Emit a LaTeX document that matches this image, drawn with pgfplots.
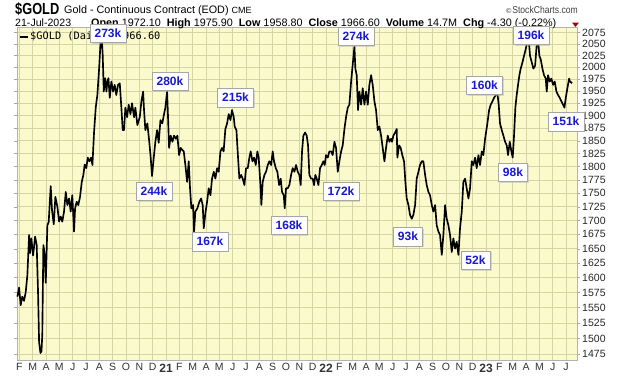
\documentclass[border=0pt]{standalone}
\usepackage{fontspec}
\setmainfont{Liberation Sans}
\newfontfamily\dejavu{DejaVu Sans}
\newfontfamily\mono{DejaVu Sans Mono}
\newfontfamily\narrowfont[FakeStretch=0.86]{Liberation Sans}
\newfontfamily\condfont[FakeStretch=0.8]{Liberation Sans}
\usepackage{pgfplots}
\pgfplotsset{compat=1.18}
\usetikzlibrary{shadows}
\definecolor{bgyel}{RGB}{250,250,204}
\definecolor{gridc}{RGB}{214,212,165}
\definecolor{yearc}{RGB}{165,165,135}
\definecolor{lblue}{RGB}{25,25,205}
\pgfplotstableread{
m p
0.85 1568
0.98 1583
1.10 1554
1.22 1568
1.35 1561
1.48 1576
1.60 1604
1.73 1674
1.80 1642
1.90 1668
2.03 1638
2.18 1671
2.30 1656
2.40 1576
2.48 1494
2.58 1477
2.66 1480
2.72 1506
2.80 1656
2.88 1644
2.98 1591
3.10 1691
3.20 1697
3.35 1763
3.45 1718
3.58 1693
3.70 1743
3.85 1725
3.98 1698
4.10 1707
4.22 1698
4.35 1716
4.48 1752
4.60 1728
4.73 1740
4.85 1716
4.97 1746
5.10 1680
5.18 1722
5.30 1734
5.42 1728
5.55 1743
5.68 1771
5.80 1784
5.90 1804
6.02 1797
6.13 1817
6.25 1810
6.38 1817
6.48 1803
6.60 1866
6.73 1917
6.85 1942
6.98 1997
7.08 2048
7.18 2062
7.25 2026
7.33 1949
7.43 1977
7.53 1949
7.60 1970
7.68 1977
7.78 1936
7.90 1970
8.03 1949
8.15 1963
8.27 1942
8.40 1963
8.53 1966
8.65 1916
8.75 1871
8.85 1871
8.95 1916
9.08 1897
9.20 1922
9.33 1903
9.45 1925
9.60 1897
9.70 1916
9.85 1881
10.03 1897
10.15 1928
10.28 1949
10.35 1911
10.45 1871
10.60 1884
10.75 1846
10.85 1817
10.95 1782
11.08 1817
11.20 1848
11.33 1871
11.45 1846
11.58 1891
11.72 1884
11.85 1903
11.95 1916
12.08 1949
12.15 1897
12.23 1836
12.35 1860
12.48 1848
12.60 1860
12.73 1854
12.85 1860
12.98 1822
13.10 1836
13.22 1832
13.33 1829
13.45 1803
13.58 1771
13.70 1810
13.80 1759
13.90 1722
14.03 1728
14.10 1680
14.20 1716
14.35 1722
14.50 1734
14.63 1740
14.75 1728
14.83 1686
14.95 1713
15.08 1734
15.20 1759
15.33 1746
15.45 1777
15.58 1790
15.70 1777
15.83 1797
15.95 1790
16.08 1829
16.20 1836
16.32 1829
16.45 1873
16.58 1884
16.70 1903
16.83 1891
16.95 1911
17.08 1897
17.15 1878
17.28 1871
17.40 1817
17.50 1777
17.63 1784
17.75 1777
17.88 1765
18.00 1797
18.13 1797
18.25 1817
18.35 1829
18.48 1810
18.60 1817
18.73 1803
18.85 1829
18.95 1817
19.08 1765
19.15 1728
19.25 1771
19.38 1784
19.50 1790
19.63 1803
19.75 1810
19.88 1803
20.00 1829
20.10 1810
20.23 1797
20.35 1790
20.48 1765
20.60 1777
20.70 1752
20.83 1746
20.90 1722
21.00 1759
21.13 1759
21.25 1765
21.38 1784
21.50 1797
21.63 1790
21.75 1803
21.88 1790
22.00 1784
22.10 1765
22.20 1829
22.30 1860
22.43 1866
22.55 1860
22.65 1841
22.75 1784
22.88 1777
23.00 1777
23.10 1765
23.20 1784
23.30 1777
23.43 1765
23.55 1797
23.68 1803
23.80 1810
23.90 1803
24.00 1822
24.13 1817
24.25 1829
24.38 1829
24.50 1822
24.63 1848
24.75 1836
24.88 1790
25.00 1810
25.13 1829
25.25 1841
25.38 1873
25.50 1897
25.63 1916
25.75 1922
25.88 1970
26.00 2005
26.13 2044
26.20 1997
26.30 1983
26.40 1911
26.50 1949
26.63 1922
26.75 1956
26.88 1922
27.00 1949
27.13 1922
27.25 1963
27.38 1983
27.50 1963
27.63 1929
27.75 1911
27.88 1871
28.00 1878
28.13 1860
28.25 1836
28.38 1810
28.50 1836
28.63 1860
28.75 1848
28.88 1854
28.95 1848
29.05 1860
29.18 1866
29.30 1873
29.35 1817
29.48 1841
29.60 1836
29.72 1822
29.85 1810
29.95 1771
30.05 1740
30.18 1728
30.30 1710
30.43 1703
30.55 1710
30.68 1728
30.80 1777
30.93 1790
31.05 1803
31.18 1810
31.30 1810
31.43 1784
31.55 1765
31.68 1752
31.80 1746
31.93 1728
32.05 1716
32.18 1728
32.30 1691
32.43 1680
32.55 1674
32.68 1639
32.80 1674
32.93 1728
33.05 1703
33.18 1691
33.30 1674
33.43 1644
33.55 1668
33.68 1650
33.80 1662
33.93 1639
34.05 1686
34.18 1716
34.30 1771
34.43 1777
34.55 1759
34.68 1740
34.80 1759
34.93 1810
35.05 1803
35.18 1817
35.30 1797
35.43 1822
35.55 1803
35.68 1829
35.80 1822
35.93 1854
36.10 1884
36.23 1911
36.35 1922
36.48 1929
36.60 1936
36.73 1942
36.85 1946
36.95 1922
37.05 1884
37.18 1871
37.30 1860
37.43 1848
37.55 1841
37.65 1822
37.78 1848
37.90 1829
38.00 1817
38.10 1860
38.20 1916
38.30 1942
38.40 1963
38.50 1983
38.60 1997
38.73 2010
38.85 2024
38.98 2039
39.10 2055
39.20 2060
39.30 2024
39.43 2010
39.55 1997
39.68 2003
39.80 2048
39.90 2058
40.00 2024
40.10 2017
40.23 1997
40.35 1983
40.48 1976
40.55 1949
40.65 1983
40.78 1970
40.90 1976
41.03 1963
41.15 1970
41.28 1949
41.40 1942
41.53 1936
41.65 1929
41.78 1922
41.88 1916
41.98 1936
42.10 1956
42.23 1976
42.30 1970
42.45 1966.6
}\gold
\tikzset{vbox/.style={draw=gray!70, fill=white, font=\fontsize{12}{12}\selectfont\bfseries, text=lblue, inner xsep=4.5pt, inner ysep=0pt, minimum height=18.5pt, drop shadow={shadow xshift=1.5pt, shadow yshift=-1.5pt, fill=gray!55}}}
\begin{document}
\begin{tikzpicture}[x=1pt,y=1pt]
\path[use as bounding box] (0,0) rectangle (620,376);
\begin{axis}[
  at={(16.7pt,15.3pt)}, anchor=south west,
  width=560pt, height=333.7pt, scale only axis,
  xmin=0.8, xmax=42.8,
  ymode=log, ymin=1465.2, ymax=2087.1,
  axis background/.style={fill=bgyel},
  axis line style={gray!60},
  grid=major,
  major grid style={gridc, line width=0.5pt},
  xtick={1,2,3,4,5,6,7,8,9,10,11,13,14,15,16,17,18,19,20,21,22,23,25,26,27,28,29,30,31,32,33,34,35,37,38,39,40,41,42},
  xticklabels={F,M,A,M,J,J,A,S,O,N,D,F,M,A,M,J,J,A,S,O,N,D,F,M,A,M,J,J,A,S,O,N,D,F,M,A,M,J,J},
  extra x ticks={12,24,36},
  extra x tick labels={\textbf{21},\textbf{22},\textbf{23}},
  extra x tick style={grid style={yearc, line width=0.6pt}, xticklabel style={font=\fontsize{12}{12}\selectfont}},
  xtick style={draw=none},
  xticklabel style={font=\fontsize{10.5}{12}\selectfont, text=black!80, yshift=3.5pt},
  ytick={1475,1500,1525,1550,1575,1600,1625,1650,1675,1700,1725,1750,1775,1800,1825,1850,1875,1900,1925,1950,1975,2000,2025,2050,2075},
  yticklabels={1475,1500,1525,1550,1575,1600,1625,1650,1675,1700,1725,1750,1775,1800,1825,1850,1875,1900,1925,1950,1975,2000,2025,2050,2075},
  yticklabel pos=right,
  ytick style={draw=gray!70},
  major tick length=3pt,
  tick align=outside,
  yticklabel style={font=\fontsize{10.5}{12}\selectfont, text=black!85, xshift=-1pt},
  minor tick num=0,
]
\addplot[black, line width=1.65pt, line join=round, no markers] table[x=m,y=p]{\gold};
\end{axis}
% legend
\draw[black, line width=1.6pt] (19.5,339) -- (27.5,339);
\node[anchor=west, inner sep=0pt, font=\mono\fontsize{10.3}{12}\selectfont] at (30,339) {\$GOLD (Daily) 1966.60};
% header
\node[anchor=base west, inner sep=0pt, font=\condfont\fontsize{16}{18}\selectfont\bfseries] at (15,362) {\$GOLD};
\node[anchor=base west, inner sep=0pt, font=\fontsize{10.8}{12}\selectfont] at (64,362.5) {Gold - Continuous Contract (EOD) {\fontsize{9}{10}\selectfont CME}};
\node[anchor=base east, inner sep=0pt, font=\narrowfont\fontsize{10}{12}\selectfont, text=black!75] at (578,362.5) {{\dejavu\fontsize{7}{9}\selectfont ©}StockCharts.com};
\node[anchor=base west, inner sep=0pt, font=\fontsize{10.6}{12}\selectfont] at (15,349.5) {21-Jul-2023};
\node[anchor=base west, inner sep=0pt, font=\fontsize{10.8}{12}\selectfont] at (91,349.5) {\textbf{Open} 1972.10 \ \textbf{High} 1975.90 \ \textbf{Low} 1958.80 \ \textbf{Close} 1966.60 \ \textbf{Volume} 14.7M \ \textbf{Chg} -4.30 (-0.22\%)};
\fill[red!65!black] (572,353.5) -- (579,353.5) -- (575.5,349) -- cycle;
% annotation boxes
\node[vbox] at (108,343) {273k};
\node[vbox] at (170,295) {280k};
\node[vbox] at (154,185) {244k};
\node[vbox] at (235.5,278.5) {215k};
\node[vbox] at (210,134.5) {167k};
\node[vbox] at (289,151) {168k};
\node[vbox] at (341,185) {172k};
\node[vbox] at (356,340) {274k};
\node[vbox] at (408,139.5) {93k};
\node[vbox] at (475.5,116) {52k};
\node[vbox] at (484.5,291) {160k};
\node[vbox] at (513,204) {98k};
\node[vbox] at (531,341) {196k};
\node[vbox] at (566,254.5) {151k};
\end{tikzpicture}
\end{document}
